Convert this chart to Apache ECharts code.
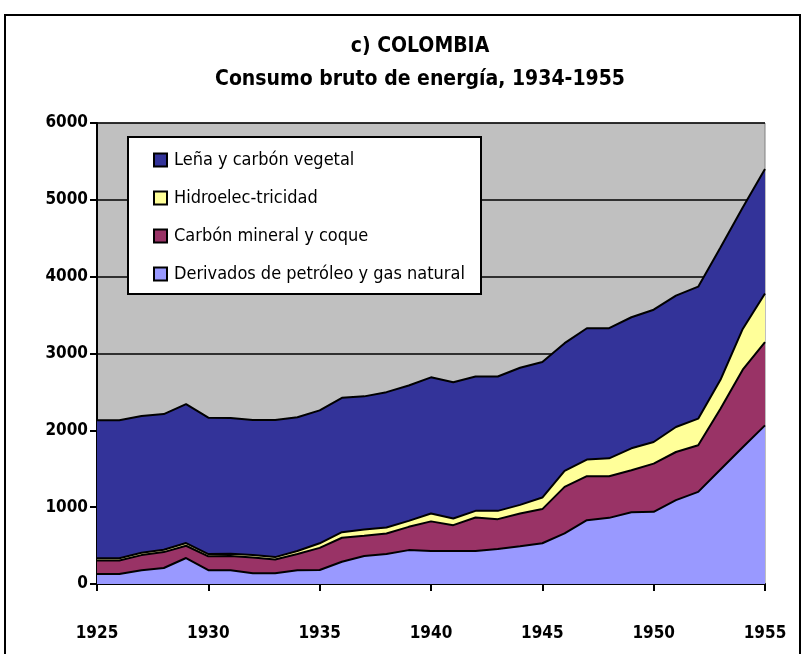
<!DOCTYPE html>
<html>
<head>
<meta charset="utf-8">
<script src="https://cdn.jsdelivr.net/npm/echarts@6/dist/echarts.min.js"></script>
<style>
  html, body { margin: 0; padding: 0; background: #fff; }
  #chart { width: 808px; height: 654px; }
</style>
</head>
<body>
<div id="chart"></div>
<script>
// años
var years = [];
for (var y = 1925; y <= 1955; y++) years.push(String(y));

// valores (por capa, no acumulados)
var derivados = [130, 130, 180, 208, 338, 180, 180, 139, 139, 180, 182, 290, 364, 390, 441, 430, 430, 430, 455, 490, 530, 658, 831, 861, 935, 939, 1091, 1199, 1490, 1780, 2065];
var carbonMineral = [175, 175, 196, 207, 160, 180, 184, 207, 181, 210, 288, 312, 264, 268, 303, 385, 336, 436, 389, 428, 445, 606, 572, 542, 546, 628, 627, 606, 790, 1010, 1082];
var hidro = [30, 30, 30, 30, 35, 30, 30, 30, 30, 40, 60, 73, 82, 78, 78, 103, 87, 86, 108, 112, 150, 208, 216, 233, 285, 281, 325, 347, 377, 530, 633];
var lena = [1795, 1795, 1780, 1767, 1809, 1775, 1766, 1759, 1785, 1740, 1730, 1749, 1732, 1761, 1762, 1772, 1774, 1749, 1749, 1784, 1765, 1662, 1710, 1693, 1706, 1722, 1710, 1718, 1723, 1580, 1620];

var yTicks = [0, 1000, 2000, 3000, 4000, 5000, 6000];

var font = "'Liberation Sans Narrow', 'DejaVu Sans Condensed', Arial, sans-serif";

var chart = echarts.init(document.getElementById('chart'));

function serie(name, data, color) {
    return {
        name: name,
        type: 'line',
        stack: 'total',
        data: data,
        symbol: 'none',
        lineStyle: { color: '#000', width: 2 },
        areaStyle: { color: color, opacity: 1 },
        itemStyle: { color: color, borderColor: '#000', borderWidth: 1.5 }
    };
}

var option = {
    animation: false,
    title: {
        text: 'c) COLOMBIA\nConsumo bruto de energía, 1934-1955',
        left: 415,
        top: 25,
        textAlign: 'center',
        textStyle: {
            fontFamily: font,
            fontSize: 21,
            fontWeight: 'bold',
            color: '#000',
            lineHeight: 33
        }
    },
    graphic: [
        {
            type: 'rect',
            shape: { x: 5, y: 15, width: 795, height: 660 },
            style: { fill: 'none', stroke: '#000', lineWidth: 2 },
            z: 100
        },
        {
            type: 'rect',
            shape: { x: 128, y: 137, width: 353, height: 157 },
            style: { fill: '#fff', stroke: '#000', lineWidth: 2 },
            z: 90
        }
    ],
    legend: {
        orient: 'vertical',
        left: 148,
        top: 146,
        z: 95,
        itemWidth: 13,
        itemHeight: 13,
        itemGap: 20,
        icon: 'rect',
        data: ['Leña y carbón vegetal', 'Hidroelec-tricidad', 'Carbón mineral y coque', 'Derivados de petróleo y gas natural'],
        textStyle: { fontFamily: font, fontSize: 18, color: '#000', padding: [0, 0, 0, 2] }
    },
    grid: {
        left: 97,
        right: 43,
        top: 123,
        bottom: 70,
        show: true,
        backgroundColor: '#C0C0C0',
        borderColor: '#808080',
        borderWidth: 1
    },
    xAxis: {
        type: 'category',
        data: years,
        boundaryGap: false,
        axisLine: { lineStyle: { color: '#000', width: 2 } },
        axisTick: { interval: 4, length: 7, lineStyle: { color: '#000', width: 2 } },
        axisLabel: {
            interval: 4,
            margin: 41,
            fontFamily: font,
            fontSize: 17,
            fontWeight: 'bold',
            color: '#000'
        },
        splitLine: { show: false }
    },
    yAxis: {
        type: 'value',
        min: yTicks[0],
        max: yTicks[yTicks.length - 1],
        interval: 1000,
        axisLine: { show: true, lineStyle: { color: '#000', width: 2 } },
        axisTick: { show: true, length: 7, lineStyle: { color: '#000', width: 2 } },
        axisLabel: {
            margin: 9,
            fontFamily: font,
            fontSize: 17,
            fontWeight: 'bold',
            color: '#000',
            formatter: function (v) { return String(v); }
        },
        splitLine: { lineStyle: { color: '#000', width: 1.5 } }
    },
    series: [
        serie('Derivados de petróleo y gas natural', derivados, '#9999FF'),
        serie('Carbón mineral y coque', carbonMineral, '#993366'),
        serie('Hidroelec-tricidad', hidro, '#FFFF99'),
        serie('Leña y carbón vegetal', lena, '#333399')
    ]
};

chart.setOption(option);
</script>
</body>
</html>
